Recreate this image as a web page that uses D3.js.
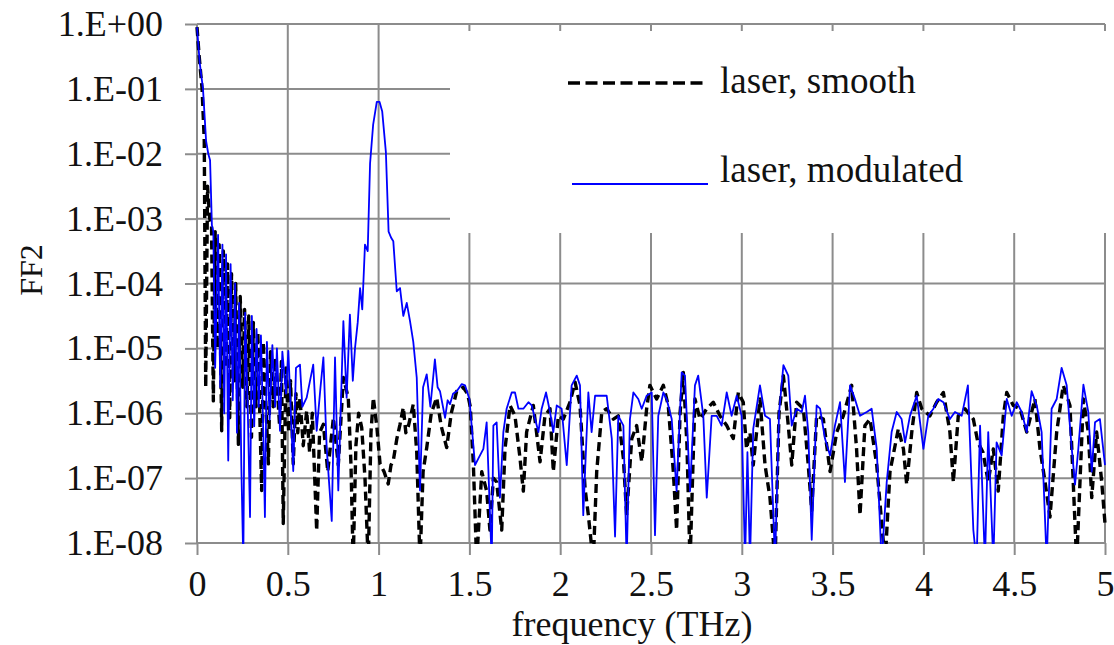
<!DOCTYPE html>
<html>
<head>
<meta charset="utf-8">
<script src="https://cdn.jsdelivr.net/npm/d3@7"></script>
<style>
  body { margin: 0; background: #fff; }
  svg { display: block; }
  svg text { font-family: "Liberation Serif", Tinos, "Times New Roman", serif; fill: #111; }
  .grid line { stroke: #8c8c8c; stroke-width: 2; }
  .axis line { stroke: #8c8c8c; stroke-width: 2; }
  .axis path { display: none; }
  .axis text { font-size: 36px; }
</style>
</head>
<body>
<svg width="1114" height="645"></svg>
<script>
// tick values / labels
var xTicks = [0, 0.5, 1, 1.5, 2, 2.5, 3, 3.5, 4, 4.5, 5];
var yTicks = [1, 1e-1, 1e-2, 1e-3, 1e-4, 1e-5, 1e-6, 1e-7, 1e-8];
var yTickLabels = ["1.E+00", "1.E-01", "1.E-02", "1.E-03", "1.E-04", "1.E-05", "1.E-06", "1.E-07", "1.E-08"];
var seriesNames = ["laser, smooth", "laser, modulated"];

var serif = "'Liberation Serif', Tinos, 'Times New Roman', serif";

// laser, smooth : frequency (THz) and log10(FF2)
var smoothFreq = [0, 0.012, 0.028, 0.04, 0.048, 0.058, 0.07, 0.08, 0.09, 0.1, 0.112, 0.122, 0.136, 0.145, 0.16, 0.168, 0.18, 0.19, 0.205, 0.213,
  0.228, 0.238, 0.252, 0.262, 0.275, 0.285, 0.3, 0.31, 0.325, 0.335, 0.356, 0.365, 0.393, 0.405, 0.42, 0.432, 0.455, 0.465, 0.475, 0.49,
  0.505, 0.515, 0.53, 0.545, 0.555, 0.567, 0.585, 0.604, 0.62, 0.635, 0.659, 0.675, 0.696, 0.72, 0.751, 0.778, 0.806, 0.833, 0.848, 0.86,
  0.875, 0.89, 0.907, 0.925, 0.943, 0.958, 0.971, 0.99, 1.008, 1.03, 1.053, 1.068, 1.081, 1.1, 1.118, 1.136, 1.15, 1.164, 1.191, 1.21,
  1.228, 1.245, 1.265, 1.29, 1.32, 1.345, 1.375, 1.4, 1.43, 1.466, 1.49, 1.505, 1.522, 1.54, 1.568, 1.595, 1.613, 1.632, 1.65, 1.678,
  1.696, 1.724, 1.751, 1.779, 1.797, 1.815, 1.852, 1.889, 1.916, 1.944, 1.962, 1.99, 2.017, 2.054, 2.082, 2.109, 2.137, 2.155, 2.182, 2.201,
  2.229, 2.256, 2.293, 2.32, 2.348, 2.366, 2.394, 2.421, 2.449, 2.476, 2.494, 2.531, 2.568, 2.595, 2.623, 2.641, 2.66, 2.678, 2.698, 2.715,
  2.742, 2.77, 2.807, 2.843, 2.88, 2.917, 2.953, 2.981, 3.008, 3.026, 3.045, 3.063, 3.1, 3.128, 3.155, 3.183, 3.205, 3.229, 3.256, 3.275,
  3.302, 3.339, 3.366, 3.385, 3.412, 3.449, 3.486, 3.523, 3.559, 3.605, 3.632, 3.651, 3.678, 3.706, 3.743, 3.789, 3.816, 3.862, 3.89, 3.908,
  3.936, 3.963, 3.991, 4.036, 4.073, 4.11, 4.146, 4.165, 4.192, 4.229, 4.275, 4.3, 4.328, 4.357, 4.385, 4.412, 4.44, 4.459, 4.495, 4.532,
  4.569, 4.614, 4.642, 4.67, 4.697, 4.734, 4.77, 4.807, 4.844, 4.881, 4.908, 4.927, 4.954, 4.982, 5.0];
var smoothLog = [-0.05, -0.5, -1.0, -1.8, -5.6, -2.5, -3.0, -3.1, -5.81, -3.2, -5.0, -3.4, -6.27, -3.5, -5.3, -3.7, -6.07, -3.85, -5.5, -4.0,
  -6.48, -4.2, -5.6, -4.4, -5.9, -4.5, -6.37, -4.6, -5.9, -4.75, -7.19, -4.9, -6.78, -5.05, -5.9, -5.15, -6.2, -5.2, -7.7, -5.3,
  -6.3, -5.5, -6.78, -5.7, -6.3, -5.76, -6.5, -5.96, -6.6, -6.0, -7.81, -6.3, -6.17, -6.9, -6.07, -6.8, -5.45, -5.76, -6.8, -8.3,
  -6.5, -6.0, -6.22, -7.0, -8.3, -6.3, -5.76, -6.2, -6.78, -6.9, -7.09, -6.8, -6.73, -6.4, -6.17, -5.91, -6.3, -6.2, -5.86, -6.6,
  -8.3, -6.9, -6.53, -6.0, -5.76, -6.2, -6.53, -6.0, -5.66, -5.6, -5.7, -5.9, -6.8, -8.3, -6.9, -7.2, -7.8, -7.0, -7.06, -7.8,
  -6.55, -5.88, -6.04, -6.7, -7.2, -6.29, -5.88, -6.75, -6.04, -5.93, -6.9, -6.04, -6.09, -5.83, -5.52, -5.88, -7.16, -7.57, -8.3, -6.9,
  -5.98, -5.93, -6.09, -6.04, -6.7, -7.57, -6.39, -6.19, -6.75, -5.93, -5.57, -5.78, -5.57, -5.88, -6.9, -7.8, -6.0, -5.37, -6.5, -8.3,
  -5.78, -6.09, -5.93, -5.83, -6.04, -6.19, -6.39, -5.68, -5.83, -6.55, -6.3, -6.8, -5.78, -6.8, -7.3, -8.3, -6.0, -5.42, -6.19, -6.8,
  -5.83, -5.93, -6.8, -7.5, -6.04, -6.09, -6.9, -6.29, -6.04, -5.57, -6.55, -7.57, -6.19, -6.09, -6.8, -8.3, -6.9, -6.24, -6.55, -7.1,
  -6.29, -5.68, -5.93, -6.04, -5.83, -5.68, -6.29, -7.06, -6.04, -5.93, -6.09, -6.45, -6.6, -7.06, -6.55, -7.2, -6.04, -5.68, -5.88, -5.93,
  -6.29, -5.78, -6.55, -7.06, -7.6, -6.29, -5.57, -5.88, -8.3, -5.78, -6.29, -7.3, -6.29, -7.06, -7.7];

// laser, modulated : frequency (THz) and log10(FF2)
var modFreq = [0, 0.015, 0.033, 0.05, 0.062, 0.072, 0.082, 0.09, 0.1, 0.116, 0.128, 0.14, 0.15, 0.16, 0.172, 0.185, 0.197, 0.21, 0.22, 0.232,
  0.244, 0.255, 0.265, 0.28, 0.292, 0.302, 0.315, 0.328, 0.34, 0.352, 0.365, 0.374, 0.385, 0.4, 0.415, 0.43, 0.44, 0.457, 0.47, 0.49,
  0.503, 0.53, 0.545, 0.567, 0.58, 0.604, 0.64, 0.659, 0.68, 0.696, 0.714, 0.742, 0.76, 0.778, 0.806, 0.824, 0.842, 0.858, 0.87, 0.885,
  0.898, 0.91, 0.925, 0.94, 0.953, 0.97, 0.99, 1.005, 1.02, 1.04, 1.055, 1.07, 1.081, 1.1, 1.118, 1.136, 1.155, 1.173, 1.191, 1.21,
  1.228, 1.245, 1.265, 1.285, 1.31, 1.325, 1.338, 1.366, 1.38, 1.393, 1.41, 1.43, 1.458, 1.476, 1.5, 1.531, 1.549, 1.577, 1.595, 1.623,
  1.632, 1.65, 1.668, 1.687, 1.705, 1.733, 1.751, 1.77, 1.797, 1.825, 1.843, 1.88, 1.898, 1.922, 1.944, 1.962, 1.981, 2.008, 2.036, 2.063,
  2.091, 2.109, 2.127, 2.155, 2.173, 2.192, 2.219, 2.256, 2.284, 2.302, 2.32, 2.348, 2.366, 2.384, 2.403, 2.43, 2.449, 2.476, 2.504, 2.522,
  2.54, 2.568, 2.586, 2.614, 2.641, 2.669, 2.687, 2.715, 2.742, 2.76, 2.788, 2.807, 2.834, 2.862, 2.889, 2.917, 2.944, 2.972, 2.999, 3.018,
  3.031, 3.045, 3.063, 3.1, 3.128, 3.155, 3.183, 3.205, 3.229, 3.256, 3.275, 3.302, 3.33, 3.348, 3.366, 3.385, 3.412, 3.431, 3.458, 3.486,
  3.513, 3.541, 3.568, 3.596, 3.623, 3.651, 3.688, 3.715, 3.743, 3.77, 3.798, 3.825, 3.853, 3.88, 3.899, 3.926, 3.963, 4.0, 4.027, 4.055,
  4.082, 4.11, 4.146, 4.174, 4.211, 4.245, 4.275, 4.293, 4.312, 4.339, 4.357, 4.385, 4.403, 4.431, 4.459, 4.486, 4.514, 4.541, 4.569, 4.596,
  4.624, 4.651, 4.679, 4.706, 4.734, 4.761, 4.789, 4.817, 4.835, 4.853, 4.881, 4.908, 4.927, 4.945, 4.972, 5.0];
var modLog = [-0.05, -0.6, -1.0, -1.8, -2.0, -2.1, -3.1, -3.2, -5.3, -3.25, -5.6, -3.4, -6.0, -3.55, -6.73, -3.7, -5.8, -4.0, -6.3, -4.3,
  -6.8, -8.3, -4.45, -6.0, -7.6, -4.5, -6.2, -4.7, -5.9, -4.8, -6.3, -7.6, -4.9, -6.1, -4.95, -5.9, -5.0, -6.27, -5.05, -5.7,
  -5.04, -6.89, -5.3, -5.25, -5.9, -5.76, -5.25, -6.27, -5.6, -5.14, -6.53, -7.66, -5.14, -7.19, -4.58, -5.76, -4.48, -5.5, -5.0, -4.6,
  -4.07, -4.4, -3.4, -3.5, -2.15, -1.55, -1.2, -1.2, -1.35, -1.97, -3.2, -3.3, -3.35, -4.12, -4.07, -4.5, -4.3, -4.58, -4.9, -5.45,
  -7.19, -5.6, -5.4, -5.9, -5.17, -5.6, -5.66, -6.07, -5.8, -5.86, -5.7, -5.66, -5.55, -5.57, -5.78, -6.8, -6.7, -6.55, -6.14, -8.3,
  -6.19, -6.14, -7.3, -6.29, -5.93, -5.68, -5.68, -5.93, -5.93, -5.83, -5.88, -6.29, -5.93, -5.68, -5.98, -6.29, -5.88, -5.93, -6.8, -5.57,
  -5.42, -5.57, -7.57, -5.68, -6.29, -5.73, -5.73, -5.73, -6.39, -7.9, -6.04, -6.19, -8.3, -6.09, -5.68, -5.78, -5.93, -5.73, -5.68, -7.88,
  -6.04, -5.68, -5.78, -6.09, -7.2, -5.37, -5.42, -7.2, -5.57, -5.42, -6.04, -7.3, -6.04, -6.04, -6.19, -5.68, -6.04, -5.73, -6.04, -8.3,
  -6.6, -8.3, -6.24, -5.57, -6.04, -6.09, -8.3, -6.0, -5.26, -5.42, -6.19, -5.93, -5.98, -5.73, -6.29, -7.95, -5.88, -5.93, -6.39, -6.65,
  -6.19, -5.83, -7.06, -5.57, -5.78, -6.04, -5.98, -5.93, -6.55, -8.3, -7.06, -6.29, -5.98, -6.09, -6.45, -6.04, -5.73, -6.55, -6.04, -5.93,
  -5.78, -5.83, -6.09, -5.98, -6.04, -5.57, -7.8, -8.3, -6.19, -8.3, -6.29, -8.3, -6.45, -6.65, -5.78, -6.04, -5.83, -5.98, -6.29, -5.66,
  -5.88, -6.29, -8.3, -5.93, -5.78, -5.3, -5.57, -6.55, -7.1, -6.55, -5.56, -5.98, -6.9, -6.14, -6.09, -6.8];

var svg = d3.select("svg");

var x = d3.scaleLinear().domain([0, 5]).range([197, 1105]);
var y = d3.scaleLog().domain([1e-8, 1]).range([543, 24]);

function toPoints(freq, logs) {
  return freq.map(function(f, i) {
    return { f: f, v: Math.pow(10, logs[i]) };
  });
}
var smooth = toPoints(smoothFreq, smoothLog);
var modulated = toPoints(modFreq, modLog);

// grid
var grid = svg.append("g").attr("class", "grid");
grid.selectAll(".vline")
  .data(xTicks)
  .enter().append("line")
  .attr("x1", function(d) { return x(d); })
  .attr("x2", function(d) { return x(d); })
  .attr("y1", y(1))
  .attr("y2", y(1e-8));
grid.selectAll(".hline")
  .data(yTicks)
  .enter().append("line")
  .attr("x1", x(0))
  .attr("x2", x(5))
  .attr("y1", function(d) { return y(d); })
  .attr("y2", function(d) { return y(d); });

// axes
svg.append("g")
  .attr("class", "axis")
  .attr("transform", "translate(0," + y(1e-8) + ")")
  .call(d3.axisBottom(x).tickValues(xTicks).tickSize(12).tickPadding(15)
    .tickFormat(function(d) { return String(d); }));

svg.append("g")
  .attr("class", "axis")
  .attr("transform", "translate(" + x(0) + ",0)")
  .call(d3.axisLeft(y).tickValues(yTicks).tickSize(12).tickPadding(22)
    .tickFormat(function(d, i) { return yTickLabels[i]; }));

svg.selectAll(".axis").attr("font-family", serif).attr("font-size", 36);

// legend backdrop hides the grid behind it
svg.append("rect")
  .attr("x", 450).attr("y", 31)
  .attr("width", 664).attr("height", 202)
  .attr("fill", "#fff");

// data
svg.append("clipPath").attr("id", "plotclip")
  .append("rect")
  .attr("x", x(0) - 2).attr("y", y(1) - 4)
  .attr("width", x(5) - x(0) + 4).attr("height", y(1e-8) - y(1) + 5);

var line = d3.line()
  .x(function(d) { return x(d.f); })
  .y(function(d) { return y(d.v); });

var plot = svg.append("g").attr("clip-path", "url(#plotclip)");

plot.append("path")
  .datum(smooth)
  .attr("d", line)
  .attr("fill", "none")
  .attr("stroke", "#000")
  .attr("stroke-width", 3.4)
  .attr("stroke-dasharray", "9,5")
  .attr("stroke-linejoin", "round");

plot.append("path")
  .datum(modulated)
  .attr("d", line)
  .attr("fill", "none")
  .attr("stroke", "#0000ff")
  .attr("stroke-width", 1.8)
  .attr("stroke-linejoin", "round");

// legend
var legend = svg.append("g").attr("font-family", serif);
legend.append("line")
  .attr("x1", 568).attr("x2", 707)
  .attr("y1", 83).attr("y2", 83)
  .attr("stroke", "#000")
  .attr("stroke-width", 3.4)
  .attr("stroke-dasharray", "12,5.5");
legend.append("text")
  .attr("x", 720).attr("y", 93)
  .style("font-size", "37px")
  .text(seriesNames[0]);
legend.append("line")
  .attr("x1", 572).attr("x2", 708)
  .attr("y1", 184).attr("y2", 184)
  .attr("stroke", "#0000ff")
  .attr("stroke-width", 2);
legend.append("text")
  .attr("x", 720).attr("y", 182)
  .style("font-size", "37px")
  .text(seriesNames[1]);

// axis titles
svg.append("text")
  .attr("x", 632).attr("y", 636)
  .attr("text-anchor", "middle")
  .attr("font-family", serif)
  .style("font-size", "36px")
  .text("frequency (THz)");

svg.append("text")
  .attr("transform", "translate(42,270) rotate(-90)")
  .attr("text-anchor", "middle")
  .attr("font-family", serif)
  .style("font-size", "32px")
  .text("FF2");
</script>
</body>
</html>
